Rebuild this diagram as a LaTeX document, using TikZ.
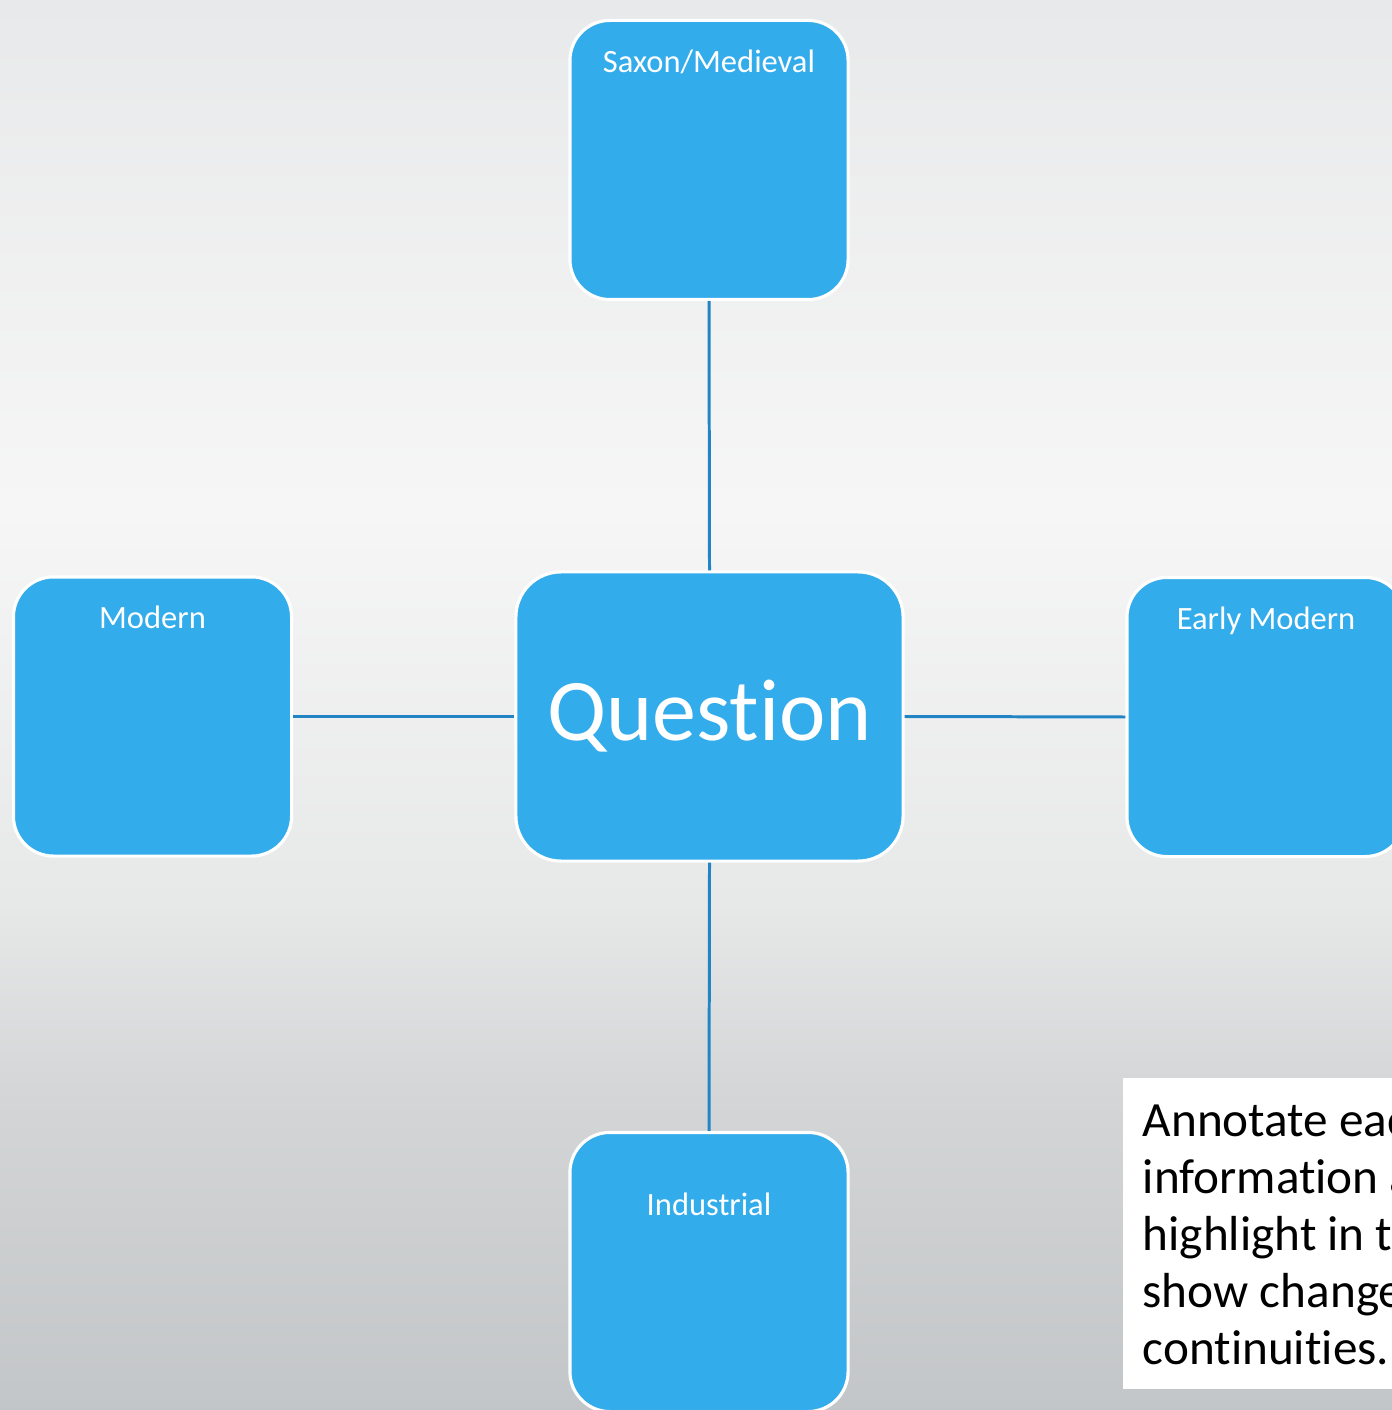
\documentclass[tikz,border=0pt]{standalone}
\usepackage{fontspec}
\setmainfont{Carlito}[Ligatures=NoCommon]
\usetikzlibrary{positioning}
\definecolor{myboxcolor}{HTML}{33ACEB}
\definecolor{mylinecolor}{HTML}{2185C5}
\definecolor{bgbottom}{HTML}{C3C6C8}
\definecolor{bglow}{HTML}{D3D5D6}
\definecolor{bgmid}{HTML}{E7E8E8}
\definecolor{bglight}{HTML}{F6F6F6}
\definecolor{bgtop}{HTML}{E8E9EA}
\pgfdeclareverticalshading{myslideshade}{100bp}{color(0bp)=(bgbottom); color(25bp)=(bgbottom); color(36bp)=(bglow); color(43bp)=(bgmid); color(57bp)=(bglight); color(75bp)=(bgtop); color(100bp)=(bgtop)}
\tikzset{%
  periodbox/.style={draw=white, line width=0.9pt, fill=myboxcolor, rounded corners=0.4cm, minimum width=2.78cm, minimum height=2.79cm, inner sep=0pt},%
  questionbox/.style={periodbox, rounded corners=0.45cm, minimum width=3.87cm, minimum height=2.89cm, text=white},%
  periodlabel/.style={text=white, inner sep=0pt},%
  notebox/.style={fill=white, anchor=north west, inner xsep=0.2cm, inner ysep=0pt, minimum width=4.2cm, minimum height=3.11cm, align=left, font=\fontsize{14.0pt}{16.2pt}\selectfont},%
  link/.style={draw=mylinecolor, line width=0.85pt}%
}

\begin{document}
\begin{tikzpicture}[x=0.01cm, y=-0.01cm]%
\useasboundingbox (0, 0) rectangle (1392, 1410);%
\clip (0, 0) rectangle (1392, 1410);%
\path[shading=myslideshade] (0, 0) rectangle (1392, 1410);%
% period boxes round the question
\node[questionbox] (question) at (709.5, 716.5) {\fontsize{25.0pt}{25.0pt}\selectfont Question};%
\node[periodbox] (saxon) at (709, 160) {};%
\node[periodbox] (modern) at (152.5, 716.5) {};%
\node[periodbox] (earlymodern) at (1266, 717) {};%
\node[periodbox] (industrial) at (709, 1272) {};%
\node[periodlabel, below=0.3cm of saxon.north] (saxonlabel) {\fontsize{9.25pt}{9.25pt}\selectfont Saxon/Medieval};%
\node[periodlabel, below=0.3cm of modern.north] (modernlabel) {\fontsize{9.25pt}{9.25pt}\selectfont Modern};%
\node[periodlabel, below=0.3cm of earlymodern.north] (earlymodernlabel) {\fontsize{9.25pt}{9.25pt}\selectfont Early Modern};%
\node[periodlabel, below=0.61cm of industrial.north] (industriallabel) {\fontsize{9.25pt}{9.25pt}\selectfont Industrial};%
% links
\draw[link] (saxon.south) -- (question.north);%
\draw[link] (question.south) -- (industrial.north);%
\draw[link] (modern.east) -- (question.west);%
\draw[link] (question.east) -- (earlymodern.west);%
% note
\node[notebox] (note) at (1122, 1077) {Annotate each period with\\information and\\highlight in the text to\\show changes and\\continuities.};%
\end{tikzpicture}
\end{document}
